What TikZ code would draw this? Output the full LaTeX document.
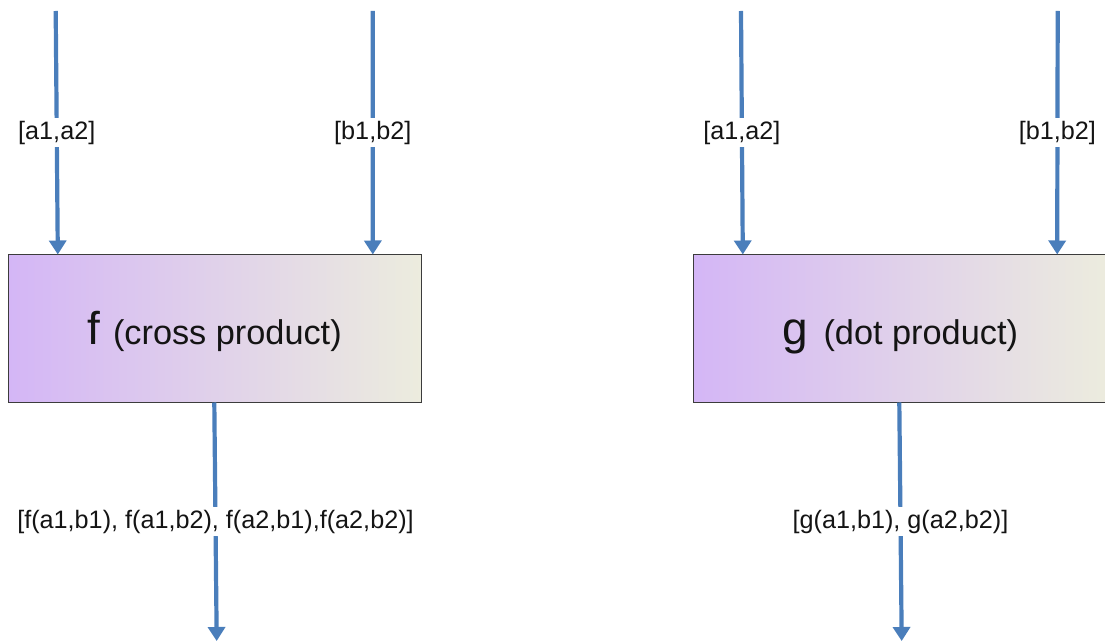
\documentclass[tikz,border=0pt]{standalone}
\usepackage{fontspec}
\setmainfont{Liberation Sans}
\usetikzlibrary{arrows.meta}

\definecolor{flowblue}{RGB}{74,126,187}
\definecolor{boxleft}{RGB}{212,182,246}
\definecolor{boxmid}{RGB}{224,210,240}
\definecolor{boxright}{RGB}{236,236,222}
\definecolor{boxedge}{RGB}{60,60,60}
\definecolor{ink}{RGB}{20,20,20}

\tikzset{
  opbox/.style={draw=boxedge, line width=1pt, inner sep=0pt,
    minimum width=413pt, minimum height=147pt,
    left color=boxleft, middle color=boxmid, right color=boxright,
    text=ink, text height=36pt, text depth=4pt},
  flow/.style={draw=flowblue, line width=4.2pt,
    -{Triangle[width=17pt,length=14pt]}},
  vlabel/.style={fill=white, text=ink, inner sep=3pt,
    font=\fontsize{25.2}{26}\selectfont}
}
\newcommand{\opname}[1]{{\fontsize{46}{46}\selectfont #1}}
\newcommand{\opnote}[1]{{\fontsize{34.3}{35}\selectfont #1}}

\begin{document}
\begin{tikzpicture}[x=1pt,y=-1pt]
  \useasboundingbox (0,0) rectangle (1105,644);
  \clip (0,0) rectangle (1105,644);

  % cross product block
  \node[opbox] (fbox) at (214.5,328.5)
    {\opname{f}\hspace{13pt}\opnote{(cross product)}};
  \coordinate (fatop) at (55.7,11);
  \coordinate (fbtop) at (372.7,11);
  \coordinate (fend)  at (216.7,641);

  \draw[flow] (fatop) -- ([xshift=50.3pt]fbox.north west)
    node[midway, vlabel] (fa) {[a1,a2]};
  \draw[flow] (fbtop) -- ([xshift=365.3pt]fbox.north west)
    node[midway, vlabel] (fb) {[b1,b2]};
  \draw[flow] ([xshift=-0.2pt]fbox.south) -- (fend)
    node[midway, vlabel] (fout) {[f(a1,b1), f(a1,b2), f(a2,b1),f(a2,b2)]};

  % dot product block
  \node[opbox, minimum width=415pt] (gbox) at (900.5,328.5)
    {\opname{g}\hspace{15pt}\opnote{(dot product)}};
  \coordinate (gatop) at (741,11);
  \coordinate (gbtop) at (1057.7,11);
  \coordinate (gend)  at (901.7,641);

  \draw[flow] (gatop) -- ([xshift=50.3pt]gbox.north west)
    node[midway, vlabel] (ga) {[a1,a2]};
  \draw[flow] (gbtop) -- ([xshift=364.7pt]gbox.north west)
    node[midway, vlabel] (gb) {[b1,b2]};
  \draw[flow] ([xshift=-1.2pt]gbox.south) -- (gend)
    node[midway, vlabel] (gout) {[g(a1,b1), g(a2,b2)]};
\end{tikzpicture}
\end{document}
